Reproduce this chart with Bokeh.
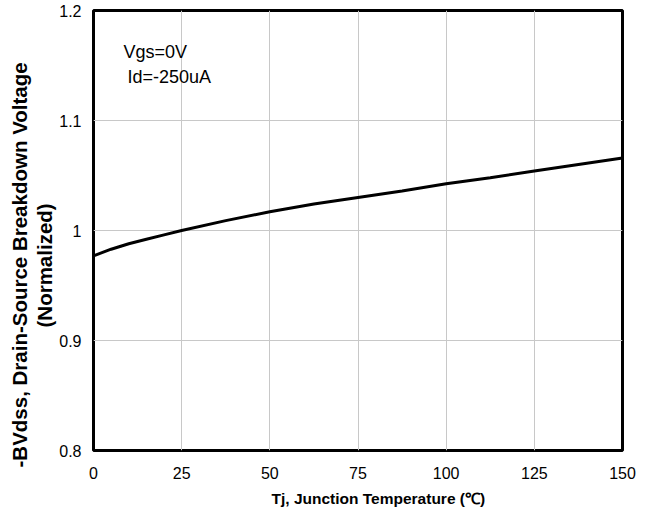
import math
from bokeh.plotting import figure
from bokeh.models import Label, FixedTicker, Range1d, NumeralTickFormatter, Title
from bokeh.embed import file_html
from bokeh.resources import INLINE

# ---- data ----
temperature = [0, 5, 10, 15, 20, 25, 37.5, 50, 62.5, 75, 87.5, 100, 112.5, 125, 137.5, 150]
bvdss_norm = [0.977, 0.983, 0.988, 0.992, 0.996, 1.000, 1.009, 1.017, 1.024, 1.030,
              1.036, 1.0425, 1.048, 1.054, 1.060, 1.066]
x_ticks = [0, 25, 50, 75, 100, 125, 150]
y_ticks = [0.8, 0.9, 1.0, 1.1, 1.2]
x_label = "Tj, Junction Temperature (\u2103)"
y_label_lines = ["-BVdss, Drain-Source Breakdown Voltage", "(Normalized)"]
note_lines = ["Vgs=0V", "Id=-250uA"]

FONT = "Liberation Sans"

p = figure(width=644, height=513, output_backend="svg", toolbar_location=None,
           x_range=Range1d(0, 150), y_range=Range1d(0.8, 1.2),
           min_border_left=93, min_border_right=22, min_border_top=10,
           min_border_bottom=63)

p.line(temperature, bvdss_norm, line_color="black", line_width=3)

for ax in (p.xaxis[0], p.yaxis[0]):
    ax.axis_line_color = None
    ax.major_tick_line_color = None
    ax.minor_tick_line_color = None
    ax.major_tick_out = 0
    ax.major_tick_in = 0
    ax.major_label_text_font = FONT
    ax.major_label_text_font_size = "16px"
    ax.major_label_text_color = "black"

p.xaxis[0].ticker = FixedTicker(ticks=x_ticks)
p.yaxis[0].ticker = FixedTicker(ticks=y_ticks)
p.yaxis[0].formatter = NumeralTickFormatter(format="0.[0]")
p.xaxis[0].major_label_standoff = 16
p.yaxis[0].major_label_standoff = 12

p.grid.grid_line_color = "#c8c8c8"
p.grid.grid_line_width = 1
p.outline_line_color = "black"
p.outline_line_width = 3
p.outline_line_alpha = 1.0

# annotation text inside plot
p.add_layout(Label(x=30, y=399, x_units="screen", y_units="screen", text=note_lines[0],
                   text_font=FONT, text_font_size="18px", text_color="black",
                   text_baseline="alphabetic"))
p.add_layout(Label(x=34, y=374, x_units="screen", y_units="screen", text=note_lines[1],
                   text_font=FONT, text_font_size="18px", text_color="black",
                   text_baseline="alphabetic"))

# axis titles
p.add_layout(Title(text=x_label, align="left", offset=178, standoff=12,
                   text_font=FONT, text_font_size="15.5px", text_font_style="bold",
                   text_color="black"), "below")
p.add_layout(Title(text=y_label_lines[1], align="left", offset=123, standoff=1,
                   text_font=FONT, text_font_size="20.5px", text_font_style="bold",
                   text_color="black"), "left")
p.add_layout(Title(text=y_label_lines[0], align="left", offset=-17, standoff=0,
                   text_font=FONT, text_font_size="20.5px", text_font_style="bold",
                   text_color="black"), "left")

open("out.html", "w").write(file_html(p, INLINE))
